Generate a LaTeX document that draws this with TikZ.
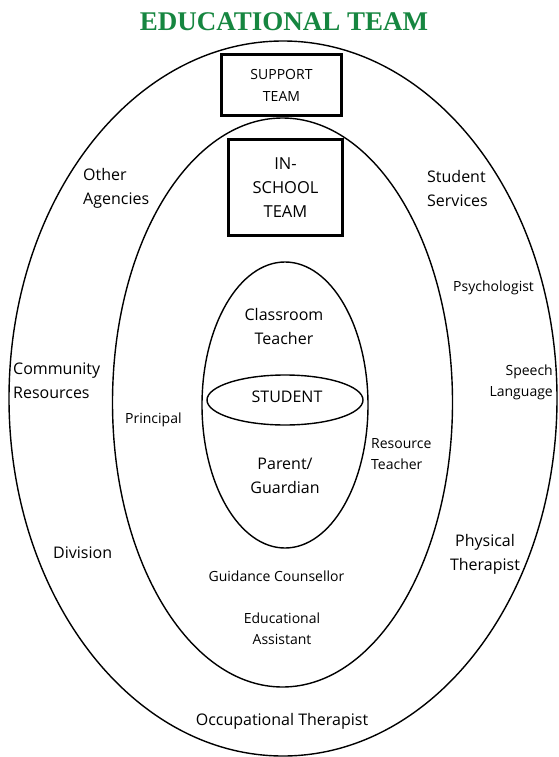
\documentclass[tikz,border=0pt]{standalone}
\usepackage{fontspec}
\setmainfont{Open Sans}
\newfontfamily\titlefont{Liberation Serif}
\definecolor{titlegreen}{RGB}{22,134,64}
\tikzset{
  ring/.style={draw=black, line width=1.4pt},
  teambox/.style={draw=black, line width=3.2pt, fill=white, inner sep=0pt, align=center},
  big/.style={inner sep=0pt, font=\fontsize{16}{24}\selectfont},
  small/.style={inner sep=0pt, font=\fontsize{14}{21}\selectfont},
}
\begin{document}
\begin{tikzpicture}[x=1pt,y=-1pt]
\useasboundingbox (0,0) rectangle (558,757);
% title
\node[inner sep=0pt, text=titlegreen, font=\titlefont\bfseries\fontsize{27}{30}\selectfont] (title) at (284,22) {EDUCATIONAL TEAM};
% ellipses
\draw[ring] (283,398.5) ellipse [x radius=274, y radius=357.5];
\draw[ring] (282.5,402.5) ellipse [x radius=170, y radius=284.5];
\draw[ring] (285,405) ellipse [x radius=83, y radius=143];
\draw[ring] (285,400) ellipse [x radius=78, y radius=25];
% boxes
\node[teambox, minimum width=120pt, minimum height=61pt, font=\fontsize{14}{22}\selectfont] (support) at (281.5,85) {SUPPORT\\TEAM};
\node[teambox, minimum width=114pt, minimum height=96pt, font=\fontsize{16.5}{24}\selectfont] (inschool) at (285.5,187.5) {IN-\\SCHOOL\\TEAM};
% outer ring labels
\node[big, anchor=west, align=left] (other) at (83,188) {Other\\Agencies};
\node[big, anchor=west, align=left] (services) at (427,188) {Student\\Services};
\node[big, anchor=west, align=left] (community) at (13,381) {Community\\Resources};
\node[big, anchor=west] (division) at (53,553) {Division};
\node[big, align=center] (physical) at (485,554) {Physical\\Therapist};
\node[big] (occupational) at (282,721) {Occupational Therapist};
\node[small, anchor=west] (psych) at (453,288) {Psychologist};
\node[small, anchor=east, align=right] (speech) at (553,382.5) {Speech\\Language};
% middle ring labels
\node[small, anchor=west] (principal) at (125,420) {Principal};
\node[small, anchor=west, align=left] (resource) at (371,454) {Resource\\Teacher};
\node[small] (guidance) at (276.5,576) {Guidance Counsellor};
\node[small, align=center] (assistant) at (282,628.5) {Educational\\Assistant};
% inner labels
\node[big, align=center] (classroom) at (284,326) {Classroom\\Teacher};
\node[big] (student) at (287,397) {STUDENT};
\node[big, align=center] (parent) at (285,475.5) {Parent/\\Guardian};
\end{tikzpicture}
\end{document}
